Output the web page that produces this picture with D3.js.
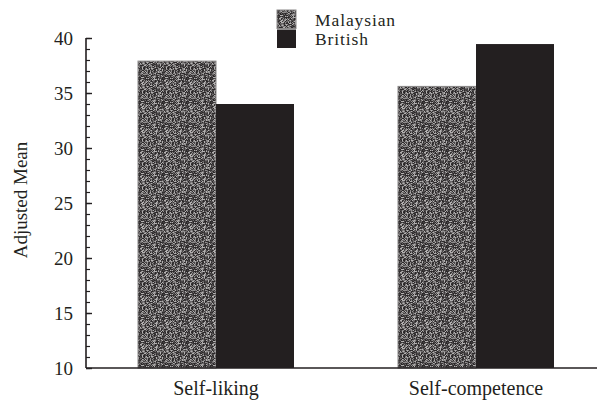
<!DOCTYPE html>
<html>
<head>
<meta charset="utf-8">
<script src="https://cdn.jsdelivr.net/npm/d3@7/dist/d3.min.js"></script>
<style>
  html, body { margin: 0; padding: 0; background: #fff; }
  svg text { font-family: "Liberation Serif", "DejaVu Serif", serif; fill: #231f20; }
</style>
</head>
<body>
<svg id="chart" width="597" height="400"></svg>
<script>
const categories = ["Self-liking", "Self-competence"];
const seriesNames = ["Malaysian", "British"];
const malaysian = [37.9, 35.6];
const british = [34.0, 39.45];
const yTicks = [10, 15, 20, 25, 30, 35, 40];
const yLabel = "Adjusted Mean";

const svg = d3.select("#chart");
const ink = "#231f20";

// speckled texture for Malaysian bars (deterministic hash)
const defs = svg.append("defs");
const pat = defs.append("pattern").attr("id", "speckle")
  .attr("patternUnits", "userSpaceOnUse").attr("width", 24).attr("height", 24);
const greys = ["#2b2829", "#4a4748", "#6e6b6c", "#8f8d8d", "#b3b1b1", "#3a3738"];
pat.append("rect").attr("width", 24).attr("height", 24).attr("fill", "#5a5758");
for (let i = 0; i < 24; i++) {
  for (let j = 0; j < 24; j++) {
    const h = Math.abs(Math.sin(i * 12.9898 + j * 78.233) * 43758.5453) % 1;
    pat.append("rect").attr("x", i).attr("y", j).attr("width", 1).attr("height", 1)
      .attr("fill", greys[Math.floor(h * greys.length)]);
  }
}

const y = d3.scaleLinear().domain([10, 40]).range([368, 38]);
const x0 = d3.scaleBand().domain(categories).range([86, 606]).paddingInner(0.4).paddingOuter(0.2);
const x1 = d3.scaleBand().domain(seriesNames).range([0, x0.bandwidth()]);
const fills = { Malaysian: "url(#speckle)", British: ink };

const rows = categories.map((c, i) => ({ cat: c, vals: [
  { s: "Malaysian", v: malaysian[i] }, { s: "British", v: british[i] } ] }));

const g = svg.append("g");
g.selectAll("g.grp").data(rows).join("g").attr("class", "grp")
  .attr("transform", d => `translate(${x0(d.cat)},0)`)
  .selectAll("rect").data(d => d.vals).join("rect")
  .attr("x", d => x1(d.s))
  .attr("y", d => y(d.v))
  .attr("width", x1.bandwidth())
  .attr("height", d => y(10) - y(d.v))
  .attr("fill", d => fills[d.s])
  .attr("stroke", d => d.s === "Malaysian" ? "#8a8888" : "none")
  .attr("stroke-width", 1);

// y axis: labels
const yLab = svg.append("g").attr("transform", "translate(86,0)")
  .call(d3.axisLeft(y).tickValues(yTicks).tickSize(0).tickPadding(13).tickFormat(d3.format("d")));
yLab.select(".domain").remove();
yLab.selectAll("text").style("font-family", "Liberation Serif").style("font-size", "19px").attr("fill", ink);

// minor ticks (inward)
const minor = d3.range(10, 41, 1);
const yMin = svg.append("g").attr("transform", "translate(86,0)")
  .call(d3.axisRight(y).tickValues(minor).tickSize(4).tickFormat(""));
yMin.select(".domain").remove();
yMin.selectAll("line").attr("stroke", ink).attr("stroke-width", 1.2);
const yMaj = svg.append("g").attr("transform", "translate(86,0)")
  .call(d3.axisRight(y).tickValues(yTicks).tickSize(6).tickFormat(""));
yMaj.select(".domain").remove();
yMaj.selectAll("line").attr("stroke", ink).attr("stroke-width", 1.4);

// axis lines
svg.append("line").attr("x1", 86).attr("x2", 86).attr("y1", y(40)).attr("y2", y(10))
  .attr("stroke", ink).attr("stroke-width", 1.6);
svg.append("line").attr("x1", 86).attr("x2", 597).attr("y1", y(10)).attr("y2", y(10))
  .attr("stroke", ink).attr("stroke-width", 1.6);

// category labels
svg.append("g").selectAll("text").data(categories).join("text")
  .attr("x", d => x0(d) + x0.bandwidth() / 2)
  .attr("y", 395)
  .attr("text-anchor", "middle")
  .style("font-size", "20px")
  .text(d => d);

// y label
svg.append("text")
  .attr("transform", "translate(27,200) rotate(-90)")
  .attr("text-anchor", "middle")
  .style("font-size", "19px")
  .text(yLabel);

// legend
const leg = svg.append("g").selectAll("g").data(seriesNames).join("g")
  .attr("transform", (d, i) => `translate(277,${10 + i * 19.5})`);
leg.append("rect").attr("width", 19).attr("height", 18.5)
  .attr("fill", d => fills[d])
  .attr("stroke", d => d === "Malaysian" ? "#8a8888" : "none");
leg.append("text").attr("x", 38).attr("y", 15.5)
  .style("font-size", "17.5px").style("letter-spacing", "0.9px").text(d => d);
</script>
</body>
</html>
